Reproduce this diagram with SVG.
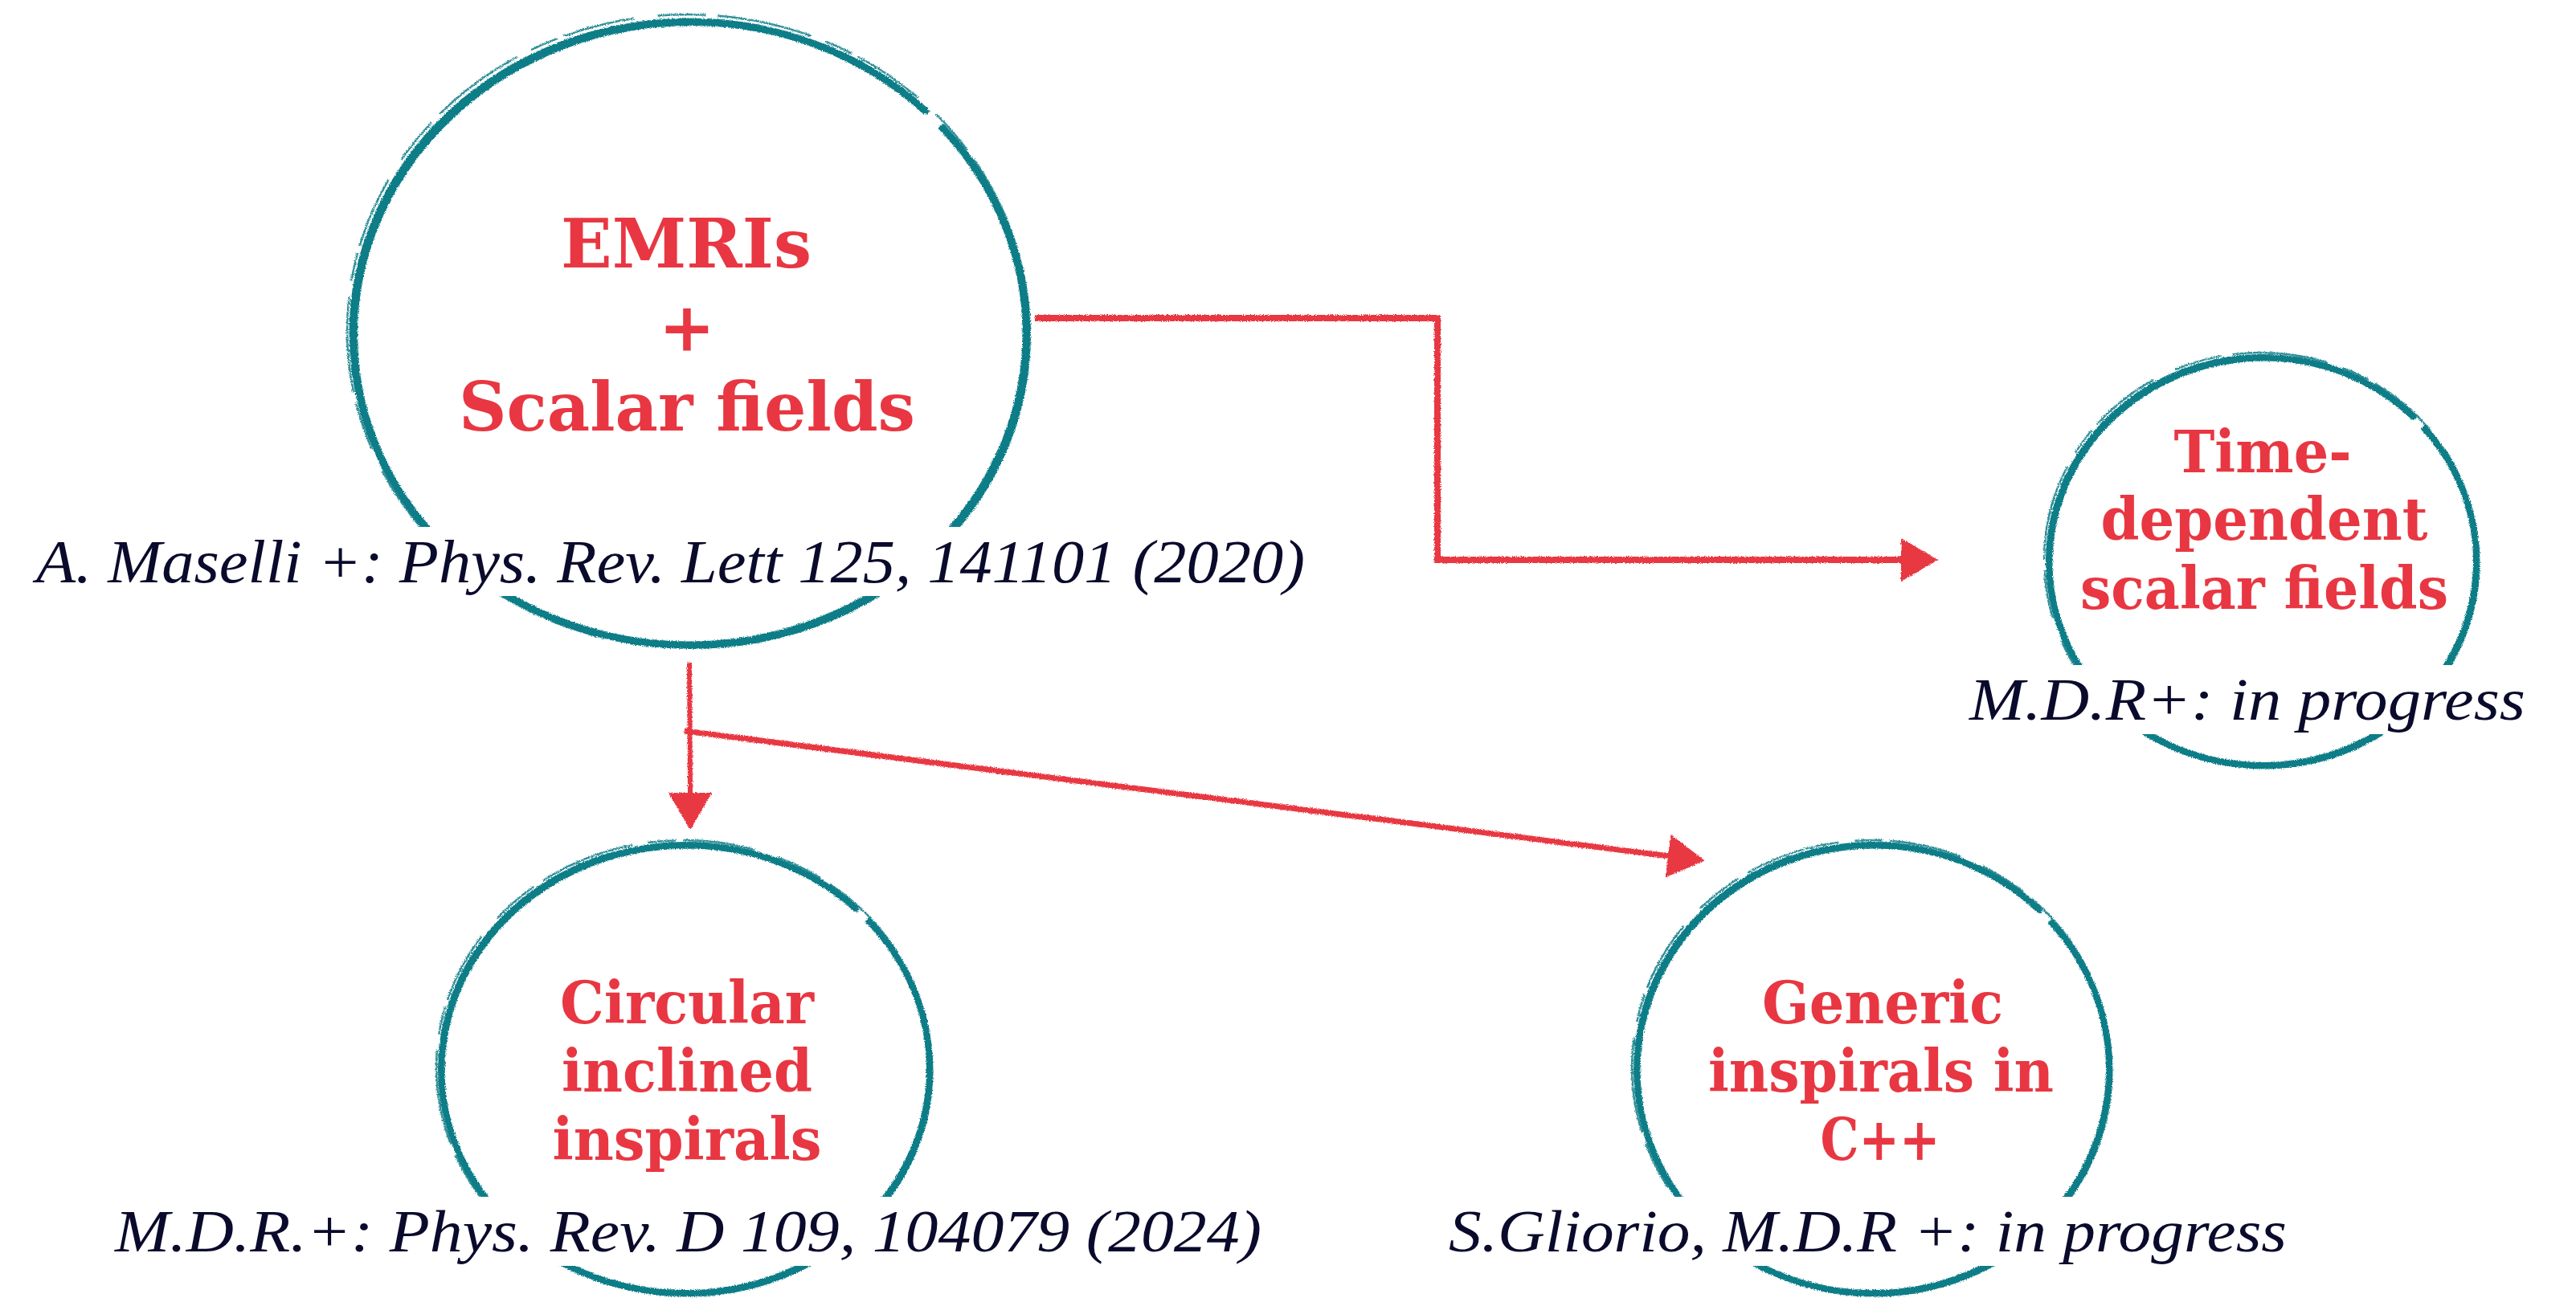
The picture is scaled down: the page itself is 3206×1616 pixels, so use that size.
<svg xmlns="http://www.w3.org/2000/svg" width="3206" height="1616" viewBox="0 0 3206 1616">
  <defs>
    <filter id="rough" x="-5%" y="-5%" width="110%" height="110%">
      <feTurbulence type="fractalNoise" baseFrequency="0.9" numOctaves="2" seed="3" result="n"/>
      <feDisplacementMap in="SourceGraphic" in2="n" scale="4" xChannelSelector="R" yChannelSelector="G"/>
    </filter>
    <marker id="arrow" viewBox="0 0 46 54" refX="2" refY="27" markerWidth="46" markerHeight="54" markerUnits="userSpaceOnUse" orient="auto">
      <path d="M0,0 L46,27 L0,54 Z" fill="#e83742"/>
    </marker>
  </defs>
  <style>
    .ring { fill: none; stroke: #0b7d87; stroke-dasharray: 877 10 2000; }
    .ring2 { fill: none; stroke: #0b7d87; stroke-width: 2.5; stroke-dasharray: 60 14 120 20 35 9 90 30; opacity: 0.85; }
    .title { font-family: "DejaVu Serif", "Liberation Serif", serif; font-weight: bold; fill: #e83742; text-anchor: middle; }
    .cite { font-family: "Liberation Serif", "Times New Roman", serif; font-style: italic; fill: #0a0a2c; }
    .mask { fill: #ffffff; }
    .conn { fill: none; stroke: #e83742; stroke-linejoin: miter; }
  </style>
  <rect x="0" y="0" width="3206" height="1616" fill="#ffffff"/>

  <g id="connectors" filter="url(#rough)">
    <polyline class="conn" stroke-width="8" points="1288,396 1789,396 1789,697 2368,697" marker-end="url(#arrow)"/>
    <line class="conn" stroke-width="6" x1="858" y1="825" x2="859" y2="989" marker-end="url(#arrow)"/>
    <line class="conn" stroke-width="7" x1="852" y1="910" x2="2078" y2="1066" marker-end="url(#arrow)"/>
  </g>

  <g id="node-emris">
    <g filter="url(#rough)">
      <ellipse class="ring" cx="858" cy="415" rx="419" ry="388" stroke-width="9" pathLength="1000"/>
      <ellipse class="ring" cx="861" cy="417" rx="419" ry="388" stroke-width="6" pathLength="1000"/>
      <ellipse class="ring2" cx="856" cy="412" rx="424" ry="394"/>
    </g>
    <text class="title" x="854" y="333" font-size="84" textLength="312" lengthAdjust="spacingAndGlyphs">EMRIs</text>
    <text class="title" x="855" y="437" font-size="84">+</text>
    <text class="title" x="855" y="536" font-size="84" textLength="568" lengthAdjust="spacingAndGlyphs">Scalar fields</text>
    <rect class="mask" x="40" y="656" width="1592" height="86"/>
    <text class="cite" x="45" y="725" font-size="77" textLength="1579" lengthAdjust="spacingAndGlyphs">A. Maselli +: Phys. Rev. Lett 125, 141101 (2020)</text>
  </g>

  <g id="node-time">
    <g filter="url(#rough)">
      <ellipse class="ring" cx="2816" cy="699" rx="266" ry="254" stroke-width="8" pathLength="1000"/>
      <ellipse class="ring" cx="2818" cy="701" rx="266" ry="254" stroke-width="5" pathLength="1000"/>
      <ellipse class="ring2" cx="2814" cy="697" rx="270" ry="258"/>
    </g>
    <text class="title" x="2816" y="588" font-size="73" textLength="221" lengthAdjust="spacingAndGlyphs">Time-</text>
    <text class="title" x="2818" y="672" font-size="73" textLength="407" lengthAdjust="spacingAndGlyphs">dependent</text>
    <text class="title" x="2818" y="758" font-size="73" textLength="458" lengthAdjust="spacingAndGlyphs">scalar fields</text>
    <rect class="mask" x="2445" y="828" width="706" height="86"/>
    <text class="cite" x="2451" y="896" font-size="75" textLength="692" lengthAdjust="spacingAndGlyphs">M.D.R+: in progress</text>
  </g>

  <g id="node-circular">
    <g filter="url(#rough)">
      <ellipse class="ring" cx="853" cy="1331" rx="304" ry="279" stroke-width="8" pathLength="1000"/>
      <ellipse class="ring" cx="855" cy="1333" rx="304" ry="279" stroke-width="5" pathLength="1000"/>
      <ellipse class="ring2" cx="851" cy="1329" rx="308" ry="283"/>
    </g>
    <text class="title" x="855" y="1274" font-size="73" textLength="316" lengthAdjust="spacingAndGlyphs">Circular</text>
    <text class="title" x="855" y="1359" font-size="73" textLength="312" lengthAdjust="spacingAndGlyphs">inclined</text>
    <text class="title" x="855" y="1444" font-size="73" textLength="335" lengthAdjust="spacingAndGlyphs">inspirals</text>
    <rect class="mask" x="138" y="1490" width="1438" height="86"/>
    <text class="cite" x="143" y="1558" font-size="75" textLength="1427" lengthAdjust="spacingAndGlyphs">M.D.R.+: Phys. Rev. D 109, 104079 (2024)</text>
  </g>

  <g id="node-generic">
    <g filter="url(#rough)">
      <ellipse class="ring" cx="2331" cy="1331" rx="294" ry="279" stroke-width="8" pathLength="1000"/>
      <ellipse class="ring" cx="2333" cy="1333" rx="294" ry="279" stroke-width="5" pathLength="1000"/>
      <ellipse class="ring2" cx="2329" cy="1329" rx="298" ry="283"/>
    </g>
    <text class="title" x="2343" y="1274" font-size="73" textLength="300" lengthAdjust="spacingAndGlyphs">Generic</text>
    <text class="title" x="2341" y="1359" font-size="73" textLength="430" lengthAdjust="spacingAndGlyphs">inspirals in</text>
    <text class="title" x="2340" y="1444" font-size="73" textLength="149" lengthAdjust="spacingAndGlyphs">C++</text>
    <rect class="mask" x="1798" y="1490" width="1054" height="86"/>
    <text class="cite" x="1803" y="1558" font-size="75" textLength="1043" lengthAdjust="spacingAndGlyphs">S.Gliorio, M.D.R +: in progress</text>
  </g>
</svg>
